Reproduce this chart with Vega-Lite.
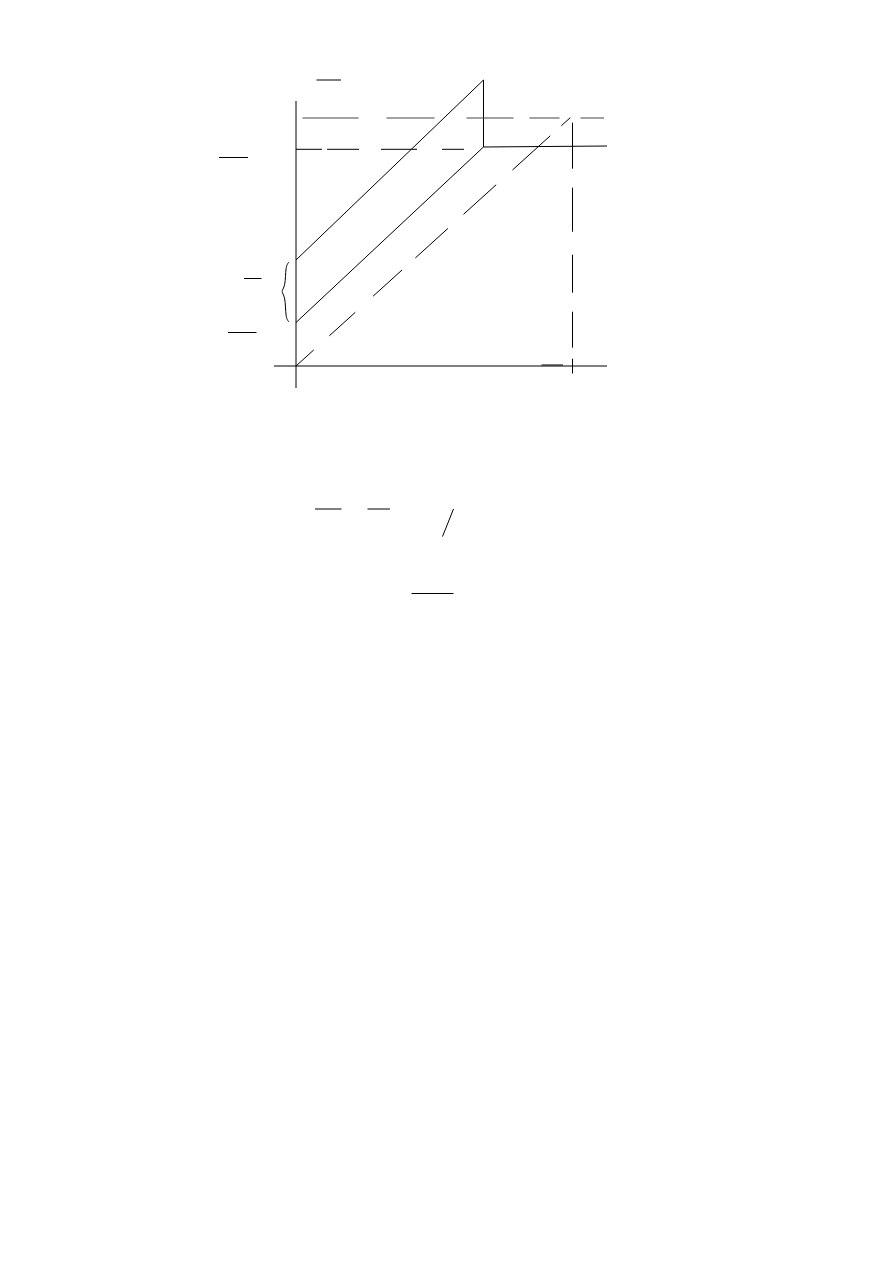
{
  "$schema": "https://vega.github.io/schema/vega-lite/v6.json",
  "width": 893,
  "height": 1263,
  "autosize": {"type": "fit", "contains": "padding"},
  "padding": 0,
  "background": "white",
  "datasets": {
    "segments": [
      {"name": "y axis", "kind": "solid", "x": 296, "y": 101, "x2": 296, "y2": 388},
      {"name": "x axis", "kind": "solid", "x": 274, "y": 366, "x2": 607, "y2": 366},
      {"name": "upper schedule", "kind": "solid", "x": 296, "y": 260, "x2": 483.5, "y2": 80},
      {"name": "upper drop", "kind": "solid", "x": 483.5, "y": 80, "x2": 483.5, "y2": 147},
      {"name": "lower schedule", "kind": "solid", "x": 296, "y": 322.5, "x2": 483.5, "y2": 147},
      {"name": "flat part", "kind": "solid", "x": 483.5, "y": 147, "x2": 607, "y2": 146},
      {"name": "label top", "kind": "solid", "x": 316.5, "y": 80, "x2": 341, "y2": 80},
      {"name": "label left 1", "kind": "solid", "x": 219, "y": 157.5, "x2": 248, "y2": 157.5},
      {"name": "label left 2", "kind": "solid", "x": 244, "y": 278.5, "x2": 261.5, "y2": 278.5},
      {"name": "label left 3", "kind": "solid", "x": 228, "y": 332.5, "x2": 256.5, "y2": 332.5},
      {"name": "tick x", "kind": "solid", "x": 541.5, "y": 365, "x2": 563, "y2": 365},
      {"name": "formula 1", "kind": "solid", "x": 315, "y": 509, "x2": 341.5, "y2": 509},
      {"name": "formula 2", "kind": "solid", "x": 367.5, "y": 509, "x2": 390, "y2": 509},
      {"name": "formula slash", "kind": "solid", "x": 453.5, "y": 509, "x2": 442.5, "y2": 536.5},
      {"name": "formula 3", "kind": "solid", "x": 411.5, "y": 593.5, "x2": 453.5, "y2": 593.5},
      {"name": "upper level", "kind": "longdash", "x": 302.5, "y": 118, "x2": 604, "y2": 118},
      {"name": "lower level", "kind": "middash", "x": 296, "y": 149.3, "x2": 464, "y2": 149.3},
      {"name": "45 degree", "kind": "diag", "x": 296, "y": 366, "x2": 571, "y2": 117},
      {"name": "output drop", "kind": "vdash", "x": 572.5, "y": 122.7, "x2": 572.5, "y2": 373.5}
    ],
    "brace": [
      {"i": 0, "x": 289, "y": 262},
      {"i": 1, "x": 285.5, "y": 266},
      {"i": 2, "x": 285.5, "y": 287},
      {"i": 3, "x": 280.5, "y": 291.5},
      {"i": 4, "x": 285.5, "y": 296},
      {"i": 5, "x": 285.5, "y": 318},
      {"i": 6, "x": 289, "y": 322}
    ]
  },
  "layer": [
    {
      "data": {"name": "segments"},
      "transform": [{"filter": "datum.kind == 'solid'"}],
      "mark": {"type": "rule", "color": "black", "strokeWidth": 1},
      "encoding": {
        "x": {"field": "x", "type": "quantitative", "scale": {"domain": [0, 893], "nice": false, "zero": false}, "axis": null},
        "y": {"field": "y", "type": "quantitative", "scale": {"domain": [1263, 0], "nice": false, "zero": false}, "axis": null},
        "x2": {"field": "x2"},
        "y2": {"field": "y2"}
      }
    },
    {
      "data": {"name": "segments"},
      "transform": [{"filter": "datum.kind == 'longdash'"}],
      "mark": {"type": "rule", "color": "#444", "strokeWidth": 1.2, "strokeDash": [56, 28, 48, 32, 47, 16, 30, 21, 25, 10]},
      "encoding": {
        "x": {"field": "x", "type": "quantitative"},
        "y": {"field": "y", "type": "quantitative"},
        "x2": {"field": "x2"},
        "y2": {"field": "y2"}
      }
    },
    {
      "data": {"name": "segments"},
      "transform": [{"filter": "datum.kind == 'middash'"}],
      "mark": {"type": "rule", "color": "black", "strokeWidth": 1, "strokeDash": [26, 5, 32, 22, 36, 25, 23, 10]},
      "encoding": {
        "x": {"field": "x", "type": "quantitative"},
        "y": {"field": "y", "type": "quantitative"},
        "x2": {"field": "x2"},
        "y2": {"field": "y2"}
      }
    },
    {
      "data": {"name": "segments"},
      "transform": [{"filter": "datum.kind == 'diag'"}],
      "mark": {"type": "rule", "color": "black", "strokeWidth": 1, "strokeDash": [24, 21, 35, 24, 39, 18, 44, 21, 44, 22, 51, 15, 12, 10]},
      "encoding": {
        "x": {"field": "x", "type": "quantitative"},
        "y": {"field": "y", "type": "quantitative"},
        "x2": {"field": "x2"},
        "y2": {"field": "y2"}
      }
    },
    {
      "data": {"name": "segments"},
      "transform": [{"filter": "datum.kind == 'vdash'"}],
      "mark": {"type": "rule", "color": "black", "strokeWidth": 1, "strokeDash": [46, 19, 44, 23, 38, 19, 36, 11, 15, 10]},
      "encoding": {
        "x": {"field": "x", "type": "quantitative"},
        "y": {"field": "y", "type": "quantitative"},
        "x2": {"field": "x2"},
        "y2": {"field": "y2"}
      }
    },
    {
      "data": {"name": "brace"},
      "mark": {"type": "line", "color": "black", "strokeWidth": 1, "interpolate": "basis"},
      "encoding": {
        "x": {"field": "x", "type": "quantitative"},
        "y": {"field": "y", "type": "quantitative"},
        "order": {"field": "i"}
      }
    }
  ],
  "config": {"view": {"stroke": null}}
}
